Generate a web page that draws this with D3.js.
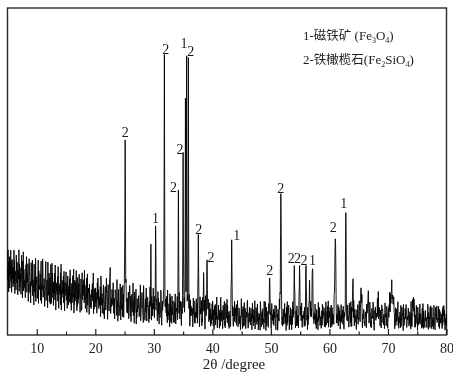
<!DOCTYPE html>
<html>
<head>
<meta charset="utf-8">
<script src="https://cdn.jsdelivr.net/npm/d3@7"></script>
<style>
  html, body { margin: 0; padding: 0; background: #fff; }
  svg { display: block; will-change: transform; }
</style>
</head>
<body>
<svg id="chart" width="453" height="375"></svg>
<script>
// ---- XRD pattern data ----
// Diffraction peaks: 2θ position (degrees), height above background (counts), half width (degrees), phase label
const peakPos    = [22.5, 25.1, 29.5, 30.3, 31.8, 34.2, 35.0, 35.4, 35.6, 35.9, 37.6, 38.5, 39.1, 43.3, 49.8, 51.7, 54.0, 54.9, 56.0, 56.6, 57.1, 61.0, 62.8, 64.0, 65.4, 66.6, 68.3, 70.6, 74.3];
const peakHeight = [  80,  505,  200,  258,  785,  375,  490,  650,  780,  780,  245,  130,  170,  235,  122,  380,  160,  160,  160,  115,  150,  242,  322,  113,   92,   67,   46,   83,   52];
const peakWidth  = [0.06, 0.06, 0.05, 0.05, 0.05, 0.05, 0.05, 0.04, 0.04, 0.04, 0.06, 0.05, 0.06, 0.06, 0.06, 0.07, 0.06, 0.06, 0.06, 0.06, 0.07, 0.10, 0.06, 0.07, 0.10, 0.10, 0.10, 0.25, 0.12];
const peakLabel  = [  "",  "2",   "",  "1",  "2",  "2",  "2",   "",  "1",  "2",  "2",   "",  "2",  "1",  "2",  "2",  "2",  "2",  "2",   "",  "1",  "2",  "1",   "",   "",   "",   "",   "",   ""];

// Background level (counts) at selected 2θ values
const bgAngle = [5, 10, 15, 20, 25, 30, 35, 40, 50, 60, 70, 80];
const bgLevel = [190, 152, 130, 112, 92, 76, 66, 58, 52, 52, 52, 48];

// Counting-noise amplitude along 2θ
const noiseAngle = [5, 20, 35, 50, 80];
const noiseAmp   = [78, 68, 54, 46, 44];

// Counting noise of the scan, digits read in pairs (00..99, centred on 49.5)
const noiseDigits =
  "62940738155927048361729380564197283065491827360594" +
  "30859176242068391574803297615028437916530842719065" +
  "74126908535471890263981547302689145730962581470392" +
  "15938260473819502746381950264738190527364819207365" +
  "92470385166283941507726835904182736950418273695304" +
  "48201937568829371154803926675084312617558439061752" +
  "27365018494716253809924615378020468315977502843166" +
  "59014628733951460287754193602841135960782441937058" +
  "80342956171348026995170348265913708246690317254486" +
  "13579024688642097531157392048866204719353108472695" +
  "66182039574415938207623398105746685192047738250914" +
  "35720918466093578124471920365581472309618854037262" +
  "04958371626039485172294018376637502948815163792480" +
  "71846203957568031942275810496338014697252847061358" +
  "29617304858176392045583702619946275018436912058734" +
  "92836150447205918363810472956742813596024871350269" +
  "57302814696183025749930146287515826039477146290358" +
  "84169270353620985147718243096529403817662059381427" +
  "20597364181745932068856017342979135862040683175942" +
  "63048192577930461825508139472664920375181526048397" +
  "18725940636457183029947260815382016594734809625173" +
  "49316087252093748615530271948667314805921372859046" +
  "75820493181646209735578304162911862740539265471830" +
  "06451879323287450196642918073559097138264404736915" +
  "38972016545910635872213756098442683015977120384659" +
  "91204768337456802913584127306978825164039556148720" +
  "24738591060318247569966035814283579140622740915386" +
  "67093125484792016358831627540916048257393805162974" +
  "50861347292764305819907452168335216498074631859201" +
  "83415069721038764925446918037252753081966928403517" +
  "16927530484509213678873604291545108627337250196843";

// Axis ticks
const majorTicks = [10, 20, 30, 40, 50, 60, 70, 80];
const minorTicks = [15, 25, 35, 45, 55, 65, 75];

// Legend lines: [text, kind] pieces
const legend1 = [["1-", ""], ["磁铁矿", "cjk"], [" (Fe", ""], ["3", "sub"], ["O", ""], ["4", "sub"], [")", ""]];
const legend2 = [["2-", ""], ["铁橄榄石", "cjk"], ["(Fe", ""], ["2", "sub"], ["SiO", ""], ["4", "sub"], [")", ""]];

const SERIF = "'Liberation Serif', 'Times New Roman', serif";
const CJK = "'Noto Sans CJK SC', sans-serif";

// ---- layout ----
const svg = d3.select("#chart");
const plot = { left: 7.5, right: 446.5, top: 8, bottom: 335 };

const x = d3.scaleLinear().domain([5, 80]).range([plot.left, plot.right]);
const y = d3.scaleLinear().domain([0, 1000]).range([plot.bottom, plot.top]);
const bg = d3.scaleLinear().domain(bgAngle).range(bgLevel);
const amp = d3.scaleLinear().domain(noiseAngle).range(noiseAmp);

// Pseudo-Voigt peak profile (mostly Gaussian, small Lorentzian tail)
function profile(d) {
  return 0.8 * Math.exp(-Math.LN2 * d * d) + 0.2 / (1 + d * d);
}

// Two noise digits -> signed deviation; most counts stay near the background, a few spike out
const L = noiseDigits.length;
function deviation(i) {
  const v = 10 * (+noiseDigits[i % L]) + (+noiseDigits[(i + 773) % L]);
  const n = (v - 49.5) / 49.5;
  const s = n > 0 ? 1.15 : 0.85;   // upward spikes reach a little further
  return s * Math.sign(n) * Math.pow(Math.abs(n), 1.5);
}

// Build the scan on a 0.05° grid from background, peaks and noise
const step = 0.05;
const nPts = Math.round((80 - 5) / step) + 1;
const peakIdx = new Set(peakPos.map(p => Math.round((p - 5) / step)));
const scan = d3.range(nPts).map(i => {
  const a = 5 + i * step;
  let v = bg(a);
  peakPos.forEach((p, k) => {
    v += peakHeight[k] * profile((a - p) / peakWidth[k]);
  });
  if (!peakIdx.has(i)) v += deviation(i) * amp(a);
  return [a, v];
});

// Frame
svg.append("rect")
  .attr("x", plot.left).attr("y", plot.top)
  .attr("width", plot.right - plot.left).attr("height", plot.bottom - plot.top)
  .attr("fill", "none").attr("stroke", "#2a2a2a").attr("stroke-width", 1.4);

// Pattern line
const line = d3.line().x(d => x(d[0])).y(d => y(d[1]));
svg.append("path")
  .datum(scan)
  .attr("d", line)
  .attr("fill", "none")
  .attr("stroke", "#000")
  .attr("stroke-width", 0.9)
  .attr("stroke-linejoin", "miter");

// Bottom axis with inward ticks
const axisMajor = d3.axisBottom(x).tickValues(majorTicks).tickSize(-6).tickFormat(d3.format("d"));
const axisMinor = d3.axisBottom(x).tickValues(minorTicks).tickSize(-3.5).tickFormat("");
const gMinor = svg.append("g").attr("transform", `translate(0,${plot.bottom})`).call(axisMinor);
const gMajor = svg.append("g").attr("transform", `translate(0,${plot.bottom})`).call(axisMajor);
[gMinor, gMajor].forEach(g => {
  g.select(".domain").remove();
  g.selectAll("line").attr("stroke", "#222").attr("stroke-width", 1.2);
});
gMajor.selectAll(".tick text")
  .style("font-family", SERIF)
  .style("font-size", "14px")
  .attr("fill", "#222")
  .attr("y", 18)
  .attr("dy", "0");

// Axis title
svg.append("text")
  .attr("x", 234).attr("y", 369)
  .attr("text-anchor", "middle")
  .style("font-family", SERIF)
  .style("font-size", "15px")
  .attr("fill", "#222")
  .text("2θ /degree");

// Peak labels, placed just above each peak top
const nudge = {
  "31.8": [1.5, 2], "34.2": [-5, 5], "35": [-3, 5], "35.6": [-2.5, -5], "35.9": [2.5, 1],
  "37.6": [0.5, 2], "39.1": [4, 5], "43.3": [5, 3], "51.7": [0, 2], "54": [-3, 0],
  "54.9": [-2, 0], "56": [-2, 2], "57.1": [0, -1], "61": [-2, -4], "62.8": [-2, -2]
};
const labelled = peakPos.map((p, k) => ({ p, k })).filter(o => peakLabel[o.k] !== "");
svg.append("g").selectAll("text")
  .data(labelled)
  .join("text")
  .style("font-family", SERIF)
  .style("font-size", "14px")
  .attr("fill", "#1a1a1a")
  .attr("text-anchor", "middle")
  .attr("x", o => x(o.p) + (nudge[String(o.p)] || [0, 0])[0])
  .attr("y", o => {
    const top = scan[Math.round((o.p - 5) / step)][1];
    return y(top) - 3 + (nudge[String(o.p)] || [0, 0])[1];
  })
  .text(o => peakLabel[o.k]);

// Legend
function legendLine(pieces, yPos) {
  const t = svg.append("text")
    .attr("x", 303).attr("y", yPos)
    .style("font-size", "13px")
    .attr("fill", "#222");
  let prevKind = null;
  pieces.forEach(([txt, kind]) => {
    const s = t.append("tspan").text(txt);
    if (kind === "cjk") {
      s.style("font-family", CJK).style("font-size", "12.5px");
    } else if (kind === "sub") {
      s.style("font-family", SERIF).style("font-size", "8px").attr("dy", 3);
    } else {
      s.style("font-family", SERIF);
    }
    if (kind !== "sub" && prevKind === "sub") s.attr("dy", -3);
    prevKind = kind;
  });
}
legendLine(legend1, 40);
legendLine(legend2, 64);
</script>
</body>
</html>
